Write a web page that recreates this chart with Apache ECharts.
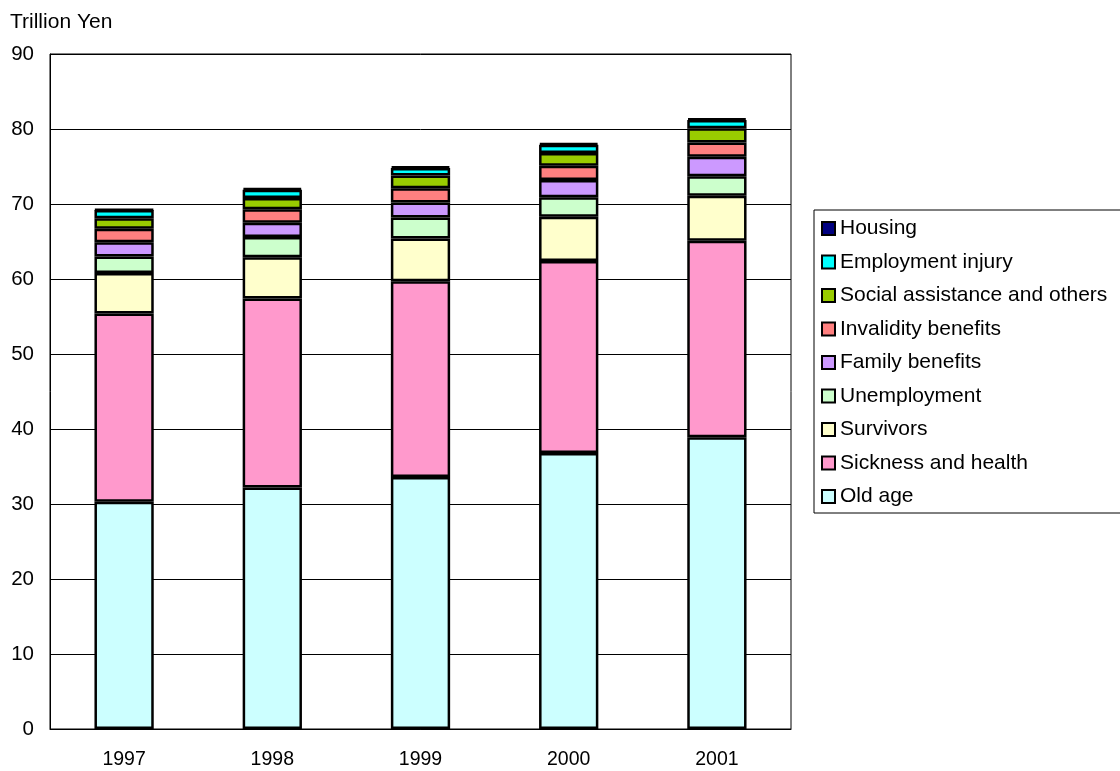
<!DOCTYPE html>
<html>
<head>
<meta charset="utf-8">
<script src="https://cdn.jsdelivr.net/npm/echarts@6/dist/echarts.min.js"></script>
<style>html,body{margin:0;padding:0;background:#fff;}#c{width:1120px;height:771px;}</style>
</head>
<body>
<div id="c"></div>
<script>
const years = ['1997', '1998', '1999', '2000', '2001'];
const oldAge        = [30.3, 32.2, 33.6, 36.8, 38.9];
const sickness      = [25.1, 25.2, 26.1, 25.6, 26.2];
const survivors     = [5.4, 5.5, 5.7, 5.9, 6.0];
const unemployment  = [2.2, 2.7, 2.8, 2.6, 2.6];
const family        = [1.9, 1.9, 2.0, 2.3, 2.6];
const invalidity    = [1.8, 1.8, 1.9, 1.9, 1.9];
const social        = [1.4, 1.5, 1.7, 1.7, 1.9];
const employment    = [1.1, 1.1, 1.0, 1.1, 1.1];
const housing       = [0.1, 0.2, 0.2, 0.2, 0.2];
const yTicks = [0, 10, 20, 30, 40, 50, 60, 70, 80, 90];

const seriesDefs = [
  ['Old age', oldAge, '#CCFFFF'],
  ['Sickness and health', sickness, '#FF99CC'],
  ['Survivors', survivors, '#FFFFCC'],
  ['Unemployment', unemployment, '#CCFFCC'],
  ['Family benefits', family, '#CC99FF'],
  ['Invalidity benefits', invalidity, '#FF8080'],
  ['Social assistance and others', social, '#99CC00'],
  ['Employment injury', employment, '#00FFFF'],
  ['Housing', housing, '#000080']
];

const chart = echarts.init(document.getElementById('c'));
const font = 'Liberation Sans, Arial, sans-serif';
chart.setOption({
  animation: false,
  backgroundColor: '#fff',
  textStyle: { fontFamily: font, color: '#000' },
  title: {
    text: 'Trillion Yen', left: 5, top: 7,
    textStyle: { fontFamily: font, fontSize: 21, fontWeight: 'normal', color: '#000' }
  },
  legend: {
    orient: 'vertical',
    left: 814, top: 210,
    data: seriesDefs.map(d => d[0]).reverse(),
    itemWidth: 13, itemHeight: 13, itemGap: 12.5,
    icon: 'rect',
    borderColor: '#000', borderWidth: 1,
    padding: [8, 20, 6, 7],
    textStyle: { fontFamily: font, fontSize: 21, color: '#000', lineHeight: 20 },
    itemStyle: { borderColor: '#000', borderWidth: 2 }
  },
  grid: {
    left: 50, right: 329, top: 54, bottom: 42,
    show: true, borderColor: '#000', borderWidth: 1
  },
  xAxis: {
    type: 'category', data: years,
    axisLine: { lineStyle: { color: '#000', width: 1 } },
    axisTick: { inside: true, length: 6, lineStyle: { color: '#000' } },
    axisLabel: { fontFamily: font, fontSize: 19.5, color: '#000', margin: 21 }
  },
  yAxis: {
    type: 'value', min: 0, max: 90, interval: 10,
    axisLine: { show: true, lineStyle: { color: '#000', width: 1 } },
    axisTick: { show: false },
    splitLine: { lineStyle: { color: '#000', width: 1 } },
    axisLabel: { fontFamily: font, fontSize: 20.5, color: '#000', margin: 16,
      formatter: v => yTicks.includes(v) ? String(v) : '' }
  },
  series: seriesDefs.map(([name, data, color]) => ({
    name, type: 'bar', stack: 'total', data,
    barWidth: '40%',
    itemStyle: { color, borderColor: '#000', borderWidth: 2.5 }
  }))
});
</script>
</body>
</html>
